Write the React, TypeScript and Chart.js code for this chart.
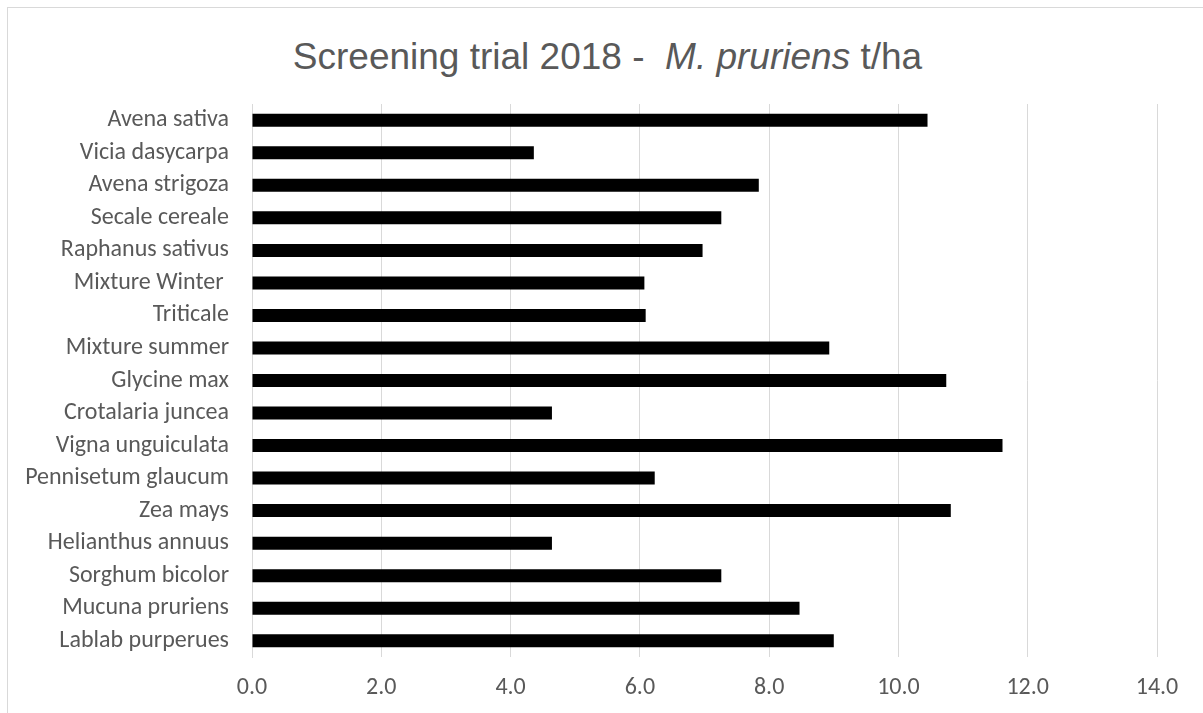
import React, { useEffect, useRef } from "react";
import { Chart, registerables } from "chart.js";

Chart.register(...registerables);

const categories = [
  "Avena sativa",
  "Vicia dasycarpa",
  "Avena strigoza",
  "Secale cereale",
  "Raphanus sativus",
  "Mixture Winter ",
  "Triticale",
  "Mixture summer",
  "Glycine max",
  "Crotalaria juncea",
  "Vigna unguiculata",
  "Pennisetum glaucum",
  "Zea mays",
  "Helianthus annuus",
  "Sorghum bicolor",
  "Mucuna pruriens",
  "Lablab purperues",
];

const yieldValues = [
  10.45, 4.36, 7.84, 7.26, 6.97, 6.07, 6.09, 8.93, 10.74, 4.64, 11.61, 6.23,
  10.81, 4.64, 7.26, 8.47, 9.0,
];

const xMin = 0;
const xMax = 14;
const xStep = 2;

const LABEL_FONT = "Carlito, Lato, 'Open Sans', sans-serif";
const TEXT_COLOR = "#595959";
const GRID_COLOR = "#d9d9d9";

export default function App() {
  const canvasRef = useRef<HTMLCanvasElement | null>(null);

  useEffect(() => {
    const canvas = canvasRef.current;
    if (!canvas) return;
    const chart = new Chart(canvas, {
      type: "bar",
      data: {
        labels: categories,
        datasets: [
          {
            data: yieldValues,
            backgroundColor: "#000000",
            borderWidth: 0,
            barPercentage: 0.4,
            categoryPercentage: 1,
          },
        ],
      },
      options: {
        indexAxis: "y",
        animation: false,
        responsive: false,
        devicePixelRatio: 1,
        layout: { padding: { top: 104, right: 46, bottom: 0, left: 0 } },
        plugins: {
          legend: { display: false },
          tooltip: { enabled: false },
          title: { display: false },
        },
        scales: {
          x: {
            min: xMin,
            max: xMax,
            ticks: {
              stepSize: xStep,
              color: TEXT_COLOR,
              font: { family: LABEL_FONT, size: 24 },
              padding: 17,
              callback: (v: any) => Number(v).toFixed(1),
            },
            grid: { color: GRID_COLOR, lineWidth: 1, drawTicks: false },
            border: { display: false },
            afterFit: (scale: any) => {
              scale.height = 56;
            },
          },
          y: {
            ticks: {
              color: TEXT_COLOR,
              font: { family: LABEL_FONT, size: 24 },
              padding: 23,
              autoSkip: false,
            },
            grid: { display: false, drawTicks: false },
            border: { display: true, color: GRID_COLOR },
            afterFit: (scale: any) => {
              scale.width = 252;
            },
          },
        },
      },
    });
    return () => chart.destroy();
  }, []);

  return (
    <div
      style={{
        position: "absolute",
        left: 0,
        top: 0,
        width: 1203,
        height: 713,
        overflow: "hidden",
        background: "#ffffff",
      }}
    >
      <div
        style={{
          position: "absolute",
          left: 7,
          top: 7,
          width: 1400,
          height: 900,
          border: "1px solid #d9d9d9",
        }}
      />
      <div
        style={{
          position: "absolute",
          left: 0,
          top: 38,
          width: 1215,
          textAlign: "center",
          fontFamily: "'Liberation Sans', Arial, sans-serif",
          fontSize: 37,
          lineHeight: "37px",
          color: TEXT_COLOR,
          whiteSpace: "pre",
        }}
      >
        {"Screening trial 2018 -  "}
        <i>M. pruriens</i>
        {" t/ha"}
      </div>
      <canvas
        ref={canvasRef}
        width={1203}
        height={713}
        style={{ position: "absolute", left: 0, top: 0 }}
      />
    </div>
  );
}
